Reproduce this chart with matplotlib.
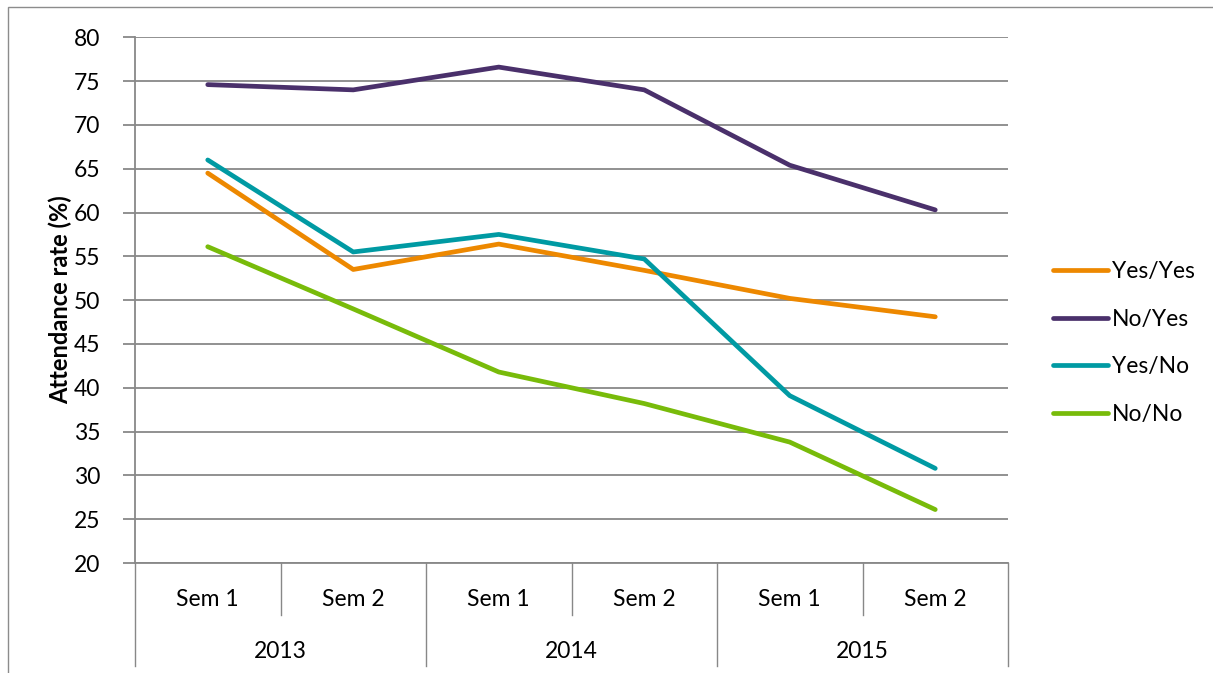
import matplotlib
matplotlib.use("Agg")
import matplotlib.pyplot as plt
from matplotlib.patches import Rectangle

# data
semesters = ["Sem 1", "Sem 2", "Sem 1", "Sem 2", "Sem 1", "Sem 2"]
years = ["2013", "2014", "2015"]
yes_yes = [64.5, 53.5, 56.4, 53.4, 50.2, 48.1]
no_yes = [74.6, 74.0, 76.6, 74.0, 65.4, 60.3]
yes_no = [66.0, 55.5, 57.5, 54.7, 39.1, 30.8]
no_no = [56.1, 49.0, 41.8, 38.2, 33.8, 26.1]

series = [
    ("Yes/Yes", yes_yes, "#ED8800"),
    ("No/Yes", no_yes, "#4A306B"),
    ("Yes/No", yes_no, "#009AA3"),
    ("No/No", no_no, "#78BB0A"),
]

plt.rcParams["font.family"] = ["Lato", "DejaVu Sans"]
FS = 16.5
GRID = "#888888"

W, H = 1213, 673
fig = plt.figure(figsize=(W / 100, H / 100), dpi=100)

# outer chart frame (cut off at right and bottom)
fig.patches.append(Rectangle((8 / W, -0.1), 2, 1.1 - 7 / H, transform=fig.transFigure,
                             fill=False, edgecolor="#8c8c8c", lw=1.0))

left, right, top, bottom = 135, 1008, 37.3, 563
ax = fig.add_axes([left / W, (H - bottom) / H, (right - left) / W, (bottom - top) / H])

x = list(range(len(semesters)))
for name, vals, col in series:
    ax.plot(x, vals, color=col, lw=3.4, label=name, solid_capstyle="round",
            solid_joinstyle="round")

ax.set_xlim(-0.5, 5.5)
ax.set_ylim(20, 80)
ax.set_yticks(range(20, 81, 5))
ax.yaxis.grid(True, color=GRID, lw=1.3)
ax.set_axisbelow(True)
ax.tick_params(axis="y", length=9, width=1.3, color=GRID, labelsize=FS, pad=16)
ax.set_xticks([])
for s in ["top", "right"]:
    ax.spines[s].set_visible(False)
for s in ["left", "bottom"]:
    ax.spines[s].set_color(GRID)
    ax.spines[s].set_linewidth(1.3)

# multi-level category axis
ah = bottom - top
sem_end = -(615 - bottom) / ah
year_end = -(666 - bottom) / ah
tr = ax.get_xaxis_transform()
for b in [0.5, 2.5, 4.5]:
    ax.plot([b, b], [0, sem_end], color=GRID, lw=1.0, transform=tr, clip_on=False)
for b in [-0.5, 1.5, 3.5, 5.5]:
    ax.plot([b, b], [0, year_end], color=GRID, lw=1.0, transform=tr, clip_on=False)
for i, s in enumerate(semesters):
    ax.text(i, -(600 - bottom) / ah, s, transform=tr, ha="center", va="center", fontsize=FS)
for i, yr in enumerate(years):
    ax.text(2 * i + 0.5, -(652 - bottom) / ah, yr, transform=tr, ha="center", va="center",
            fontsize=FS)

fig.text(60 / W, 1 - 300 / H, "Attendance rate (%)", rotation=90, ha="center", va="center",
         fontsize=17, fontweight="bold")

fig.legend(loc="center left", bbox_to_anchor=(1032 / W, 1 - 343 / H), frameon=False,
           fontsize=FS, handlelength=2.4, handletextpad=0.2, labelspacing=1.15)

fig.savefig("out.png", dpi=100)
